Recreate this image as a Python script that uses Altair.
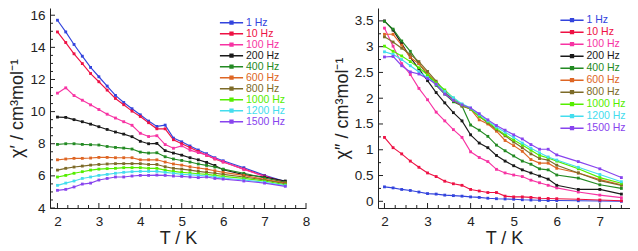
import altair as alt
import pandas as pd

# Temperature grid (K)
T = [2.0, 2.2, 2.4, 2.6, 2.8, 3.0, 3.2, 3.4, 3.6, 3.8, 4.0, 4.2, 4.4, 4.6, 4.8,
     5.0, 5.2, 5.4, 5.6, 5.8, 6.0, 6.5, 7.0, 7.5]

FREQS = ["1 Hz", "10 Hz", "100 Hz", "200 Hz", "400 Hz", "600 Hz", "800 Hz",
         "1000 Hz", "1200 Hz", "1500 Hz"]
COLORS = ["#3344dd", "#ee1144", "#f733a3", "#1a1a1a", "#238a23", "#de6624",
          "#7d6b28", "#55ee00", "#44ddee", "#8844ee"]

# chi' (in-phase)
re_1 = [15.69, 14.96, 14.18, 13.45, 12.75, 12.17, 11.59, 11.01, 10.57, 10.18, 9.80, 9.41, 9.08, 9.16, 8.35, 8.12, 7.86, 7.61, 7.38, 7.13, 6.94, 6.51, 6.03, 5.64]
re_10 = [14.96, 14.30, 13.60, 12.99, 12.37, 11.86, 11.34, 10.82, 10.43, 10.03, 9.70, 9.31, 8.93, 8.93, 8.25, 8.00, 7.77, 7.52, 7.28, 7.05, 6.86, 6.42, 5.99, 5.60]
re_100 = [11.15, 11.48, 11.00, 10.71, 10.42, 10.13, 9.84, 9.60, 9.37, 9.15, 8.65, 8.45, 8.50, 7.95, 7.72, 7.87, 7.60, 7.45, 7.30, 7.08, 6.88, 6.40, 5.97, 5.58]
re_200 = [9.66, 9.64, 9.50, 9.37, 9.22, 9.06, 8.89, 8.73, 8.60, 8.44, 8.15, 8.00, 8.02, 7.57, 7.42, 7.29, 7.13, 7.00, 6.84, 6.65, 6.38, 6.08, 5.93, 5.68]
re_400 = [7.96, 8.00, 8.00, 7.96, 7.94, 7.92, 7.83, 7.77, 7.73, 7.67, 7.48, 7.42, 7.44, 7.19, 7.05, 6.96, 6.86, 6.74, 6.65, 6.55, 6.42, 6.16, 5.87, 5.60]
re_600 = [7.00, 7.05, 7.09, 7.09, 7.11, 7.15, 7.15, 7.13, 7.13, 7.13, 7.00, 7.00, 7.00, 6.86, 6.74, 6.67, 6.57, 6.49, 6.42, 6.32, 6.22, 6.03, 5.78, 5.55]
re_800 = [6.36, 6.47, 6.55, 6.61, 6.67, 6.71, 6.74, 6.76, 6.76, 6.76, 6.76, 6.71, 6.71, 6.57, 6.47, 6.42, 6.36, 6.28, 6.22, 6.16, 6.09, 5.93, 5.74, 5.51]
re_1000 = [5.93, 6.03, 6.16, 6.26, 6.36, 6.42, 6.45, 6.47, 6.51, 6.51, 6.51, 6.47, 6.47, 6.36, 6.28, 6.22, 6.18, 6.13, 6.09, 6.03, 5.97, 5.84, 5.68, 5.45]
re_1200 = [5.41, 5.55, 5.68, 5.84, 5.93, 6.03, 6.09, 6.16, 6.22, 6.26, 6.28, 6.28, 6.28, 6.22, 6.16, 6.09, 6.07, 6.03, 5.99, 5.93, 5.87, 5.74, 5.60, 5.39]
re_1500 = [5.10, 5.16, 5.31, 5.49, 5.55, 5.74, 5.84, 5.93, 5.93, 5.99, 6.03, 6.03, 6.05, 6.03, 5.99, 5.97, 5.93, 5.89, 5.93, 5.84, 5.80, 5.68, 5.55, 5.35]

# chi'' (out-of-phase)
im_1 = [0.28, 0.26, 0.23, 0.21, 0.18, 0.15, 0.14, 0.12, 0.11, 0.10, 0.085, 0.075, 0.06, 0.05, 0.045, 0.04, 0.03, 0.025, 0.02, 0.015, 0.015, 0.01, 0.005, 0.0]
im_10 = [1.24, 1.04, 0.92, 0.78, 0.66, 0.55, 0.48, 0.39, 0.34, 0.31, 0.23, 0.20, 0.17, 0.17, 0.10, 0.085, 0.085, 0.075, 0.06, 0.055, 0.05, 0.04, 0.025, 0.01]
im_100 = [3.36, 3.01, 2.67, 2.46, 2.19, 1.97, 1.73, 1.56, 1.39, 1.24, 0.96, 0.85, 0.77, 0.62, 0.55, 0.51, 0.48, 0.41, 0.36, 0.31, 0.26, 0.18, 0.12, 0.07]
im_200 = [3.50, 3.32, 3.06, 2.79, 2.57, 2.34, 2.11, 1.91, 1.72, 1.56, 1.29, 1.13, 1.04, 0.89, 0.78, 0.69, 0.61, 0.55, 0.49, 0.43, 0.31, 0.23, 0.23, 0.14]
im_400 = [3.49, 3.34, 3.11, 2.91, 2.67, 2.45, 2.25, 2.08, 1.93, 1.85, 1.48, 1.38, 1.26, 1.09, 0.98, 0.88, 0.78, 0.72, 0.63, 0.61, 0.51, 0.45, 0.32, 0.25]
im_600 = [3.24, 3.24, 3.03, 2.79, 2.67, 2.48, 2.30, 2.11, 1.96, 1.85, 1.79, 1.58, 1.50, 1.36, 1.18, 1.08, 0.97, 0.81, 0.74, 0.74, 0.64, 0.55, 0.42, 0.32]
im_800 = [3.19, 3.09, 2.97, 2.85, 2.71, 2.52, 2.33, 2.13, 1.96, 1.85, 1.79, 1.65, 1.52, 1.39, 1.27, 1.15, 1.04, 0.92, 0.83, 0.80, 0.70, 0.55, 0.40, 0.31]
im_1000 = [3.01, 2.91, 2.82, 2.71, 2.59, 2.45, 2.30, 2.16, 2.00, 1.87, 1.79, 1.65, 1.54, 1.41, 1.29, 1.19, 1.09, 0.99, 0.89, 0.84, 0.78, 0.63, 0.46, 0.35]
im_1200 = [2.90, 2.85, 2.75, 2.63, 2.51, 2.40, 2.27, 2.13, 2.01, 1.89, 1.81, 1.68, 1.56, 1.44, 1.34, 1.24, 1.13, 1.03, 0.94, 0.86, 0.80, 0.66, 0.52, 0.38]
im_1500 = [2.80, 2.81, 2.63, 2.51, 2.47, 2.38, 2.27, 2.08, 1.96, 1.87, 1.81, 1.70, 1.58, 1.47, 1.38, 1.29, 1.21, 1.10, 1.01, 1.01, 0.90, 0.77, 0.63, 0.46]

RE = [re_1, re_10, re_100, re_200, re_400, re_600, re_800, re_1000, re_1200, re_1500]
IM = [im_1, im_10, im_100, im_200, im_400, im_600, im_800, im_1000, im_1200, im_1500]

# axis ticks
L_X_MAJOR = [2, 3, 4, 5, 6, 7, 8]
L_X_MINOR = [2.25, 2.5, 2.75, 3.25, 3.5, 3.75, 4.25, 4.5, 4.75, 5.25, 5.5, 5.75, 6.25, 6.5, 6.75, 7.25, 7.5, 7.75]
L_Y_MAJOR = [4, 6, 8, 10, 12, 14, 16]
L_Y_MINOR = [4.5, 5, 5.5, 6.5, 7, 7.5, 8.5, 9, 9.5, 10.5, 11, 11.5, 12.5, 13, 13.5, 14.5, 15, 15.5]
R_X_MAJOR = [2, 3, 4, 5, 6, 7]
R_X_MINOR = [2.25, 2.5, 2.75, 3.25, 3.5, 3.75, 4.25, 4.5, 4.75, 5.25, 5.5, 5.75, 6.25, 6.5, 6.75, 7.25, 7.5]
R_Y_MAJOR = [0, 0.5, 1, 1.5, 2, 2.5, 3, 3.5]
R_Y_MINOR = [0.25, 0.75, 1.25, 1.75, 2.25, 2.75, 3.25]

FONT = "Liberation Sans"
AXC = "#222222"
LEGEND_SYMBOL = "M-2.5,0H2.5M-0.3,-0.3H0.3V0.3H-0.3Z"

label_color_expr = "[" + ",".join("'%s'" % c for c in COLORS) + "][indexof([" + \
    ",".join("'%s'" % f for f in FREQS) + "], datum.label)]"


def panel(series, xdom, ydom, xmaj, xmin, ymaj, ymin, ytitle, yfmt,
          W, H, lx, ly, rowpad):
    rows = []
    for f, vals in zip(FREQS, series):
        for t, v in zip(T, vals):
            rows.append({"T": t, "v": v, "f": f})
    df = pd.DataFrame(rows)
    xs = alt.Scale(domain=xdom, nice=False, zero=False)
    ys = alt.Scale(domain=ydom, nice=False, zero=False)
    xa = alt.Axis(values=xmaj, format="d", title="T / K", ticks=False, grid=False,
                  labelFlush=False, labelOverlap=False, labelPadding=6, titlePadding=2)
    ya = alt.Axis(values=ymaj, format=yfmt, title=ytitle, ticks=False, grid=False,
                  labelFlush=False, labelOverlap=False, labelPadding=5, titlePadding=3)
    X = alt.X("T:Q", scale=xs, axis=xa)
    Y = alt.Y("v:Q", scale=ys, axis=ya)

    lines = alt.Chart(df).mark_line(
        strokeWidth=1.15,
        point=alt.OverlayMarkDef(shape="square", size=8, filled=True),
    ).encode(
        x=X, y=Y,
        color=alt.Color("f:N", sort=FREQS,
                        scale=alt.Scale(domain=FREQS, range=COLORS),
                        legend=alt.Legend(
                            orient="none", legendX=lx, legendY=ly, title=None,
                            symbolType=LEGEND_SYMBOL, symbolSize=86, symbolStrokeWidth=1.5,
                            labelFont=FONT, labelFontSize=10.5,
                            labelColor=alt.ExprRef(expr=label_color_expr),
                            rowPadding=rowpad, padding=0, labelOffset=9,
                        )),
    )

    def xticks(vals, ln):
        return alt.Chart(pd.DataFrame({"T": vals})).mark_rule(color=AXC, strokeWidth=1).encode(
            x=X, y=alt.value(H), y2=alt.value(H - ln))

    def yticks(vals, ln):
        return alt.Chart(pd.DataFrame({"v": vals})).mark_rule(color=AXC, strokeWidth=1).encode(
            y=Y, x=alt.value(0), x2=alt.value(ln))

    return alt.layer(
        xticks(xmaj, 5), xticks(xmin, 3), yticks(ymaj, 5), yticks(ymin, 3), lines
    ).properties(width=W, height=H)


left = panel(RE, [1.82, 8.0], [4.0, 16.45], L_X_MAJOR, L_X_MINOR, L_Y_MAJOR, L_Y_MINOR,
             "χ′ / cm³mol⁻¹", "d", 256, 200, 176, 9.2, 0)
right = panel(IM, [1.85, 7.7], [-0.13, 3.75], R_X_MAJOR, R_X_MINOR, R_Y_MAJOR, R_Y_MINOR,
              "χ″ / cm³mol⁻¹", "~g", 252, 200, 188.5, 6.7, 1)

chart = alt.hconcat(left, right, spacing=23).resolve_scale(
    x="independent", y="independent", color="independent"
).resolve_legend(color="independent").properties(
    padding=0, background="white"
).configure_view(stroke=None).configure_axis(
    domainColor=AXC, domainWidth=1, labelFont=FONT, titleFont=FONT,
    labelFontSize=13.5, titleFontSize=18, labelColor=AXC, titleColor=AXC,
    titleFontWeight="normal",
)

chart.save("out.html", embed_options={"renderer": "svg", "actions": False})
